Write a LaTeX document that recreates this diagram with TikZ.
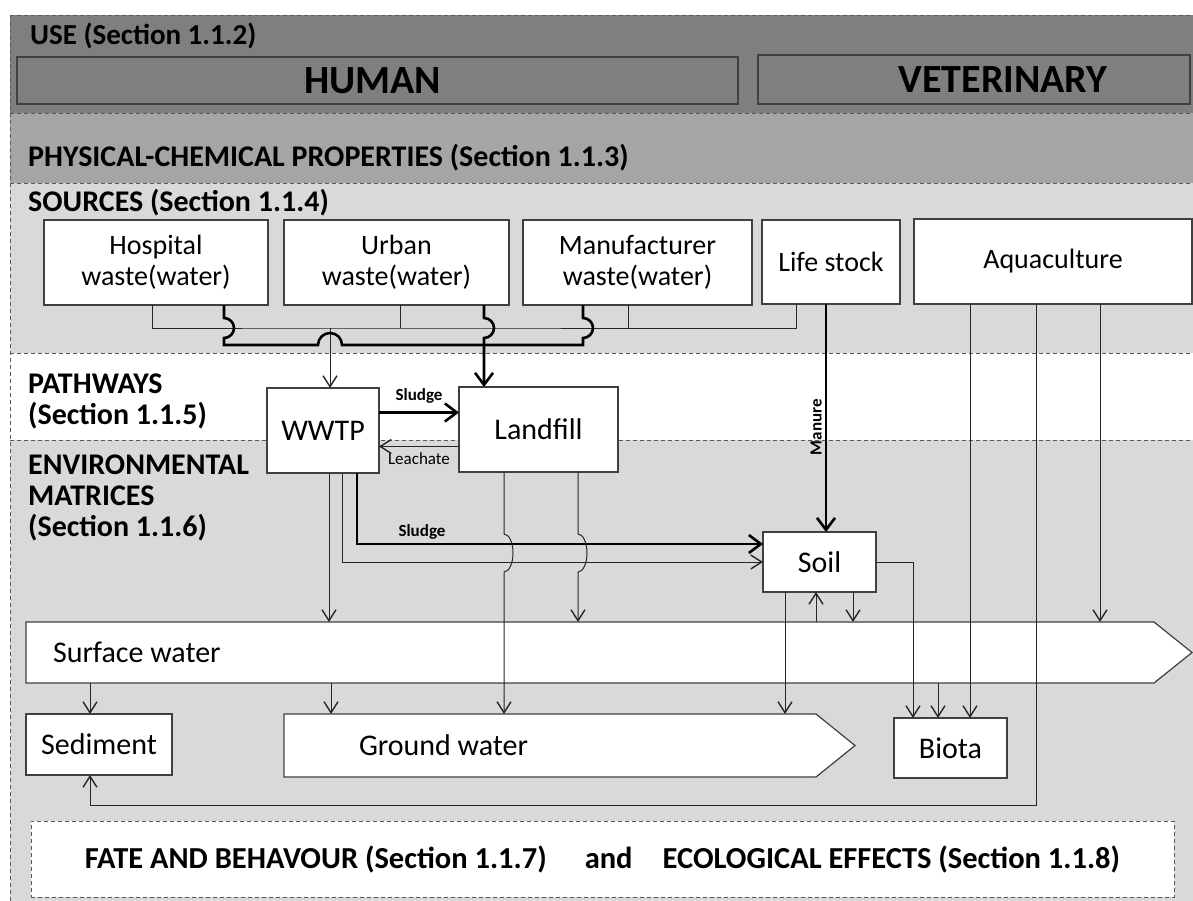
\documentclass[tikz,border=0pt]{standalone}
\usepackage{fontspec}
\setmainfont{Carlito}
\usetikzlibrary{arrows.meta,backgrounds}

\definecolor{usegray}{HTML}{7F7F7F}
\definecolor{physgray}{HTML}{A5A5A5}
\definecolor{bandgray}{HTML}{D9D9D9}
\definecolor{edgegray}{HTML}{404040}

\begin{document}
\begin{tikzpicture}[
  x=1pt, y=-1pt,
  box/.style={draw=edgegray, fill=white, line width=1.2pt, inner sep=0pt, outer sep=0pt,
    anchor=north west, align=center, font=\fontsize{28}{31}\selectfont},
  envbox/.style={box, font=\fontsize{30}{34}\selectfont},
  usebox/.style={box, fill=usegray, font=\bfseries\fontsize{40}{44}\selectfont},
  bandlbl/.style={anchor=base west, inner sep=0pt, align=left, font=\bfseries\fontsize{30}{31}\selectfont},
  sepline/.style={draw=black!65, line width=0.9pt, dash pattern=on 4pt off 3pt},
  thinline/.style={draw=black!85, line width=1pt},
  thinarrow/.style={thinline, -{Straight Barb[length=11pt, width=14pt, line width=1.4pt]}},
  thickline/.style={draw=black, line width=2.6pt},
  thickarrow/.style={thickline, -{Straight Barb[length=12pt, width=18pt]}},
  flowlbl/.style={font=\fontsize{17}{20}\selectfont, inner sep=3pt},
  boldlbl/.style={font=\bfseries\fontsize{17}{20}\selectfont, inner sep=3pt},
]
\useasboundingbox (0,0) rectangle (1193,901);

% bands
\begin{scope}[on background layer]
  \fill[white] (0,0) rectangle (1193,901);
  \fill[usegray] (10,15) rectangle (1193,113);
  \fill[physgray] (10,113) rectangle (1193,183);
  \fill[bandgray] (10,183) rectangle (1193,353);
  \fill[bandgray] (10,440) rectangle (1193,901);
  \foreach \yy in {15,113,183,353,440}
    \draw[sepline] (10,\yy) -- (1193,\yy);
  \draw[sepline] (10,15) -- (10,901);
\end{scope}

% use
\node[bandlbl, font=\bfseries\fontsize{29}{31}\selectfont] (uselbl) at (30,45) {USE (Section 1.1.2)};
\node[usebox, minimum width=721, minimum height=47] (human) at (17,57) {HUMAN\hspace*{10pt}};
\node[usebox, minimum width=432, minimum height=49] (vet) at (758,55) {\hspace*{58pt}VETERINARY};
\node[bandlbl] (physlbl) at (28,167) {PHYSICAL-CHEMICAL PROPERTIES (Section 1.1.3)};

% sources
\node[bandlbl] (srclbl) at (28,212) {SOURCES (Section 1.1.4)};
\node[box, minimum width=224, minimum height=85] (hosp) at (44,220) {Hospital\\waste(water)};
\node[box, minimum width=225, minimum height=85] (urban) at (284,220) {Urban\\waste(water)};
\node[box, minimum width=229, minimum height=85] (manuf) at (523,220) {Manufacturer\\waste(water)};
\node[box, minimum width=138, minimum height=84] (stock) at (762,220) {Life stock};
\node[box, minimum width=278, minimum height=85] (aqua) at (914,219) {Aquaculture};

% pathways
\node[bandlbl, anchor=north west] (pathlbl) at (28,374) {PATHWAYS\\(Section 1.1.5)};
\node[box, font=\fontsize{30}{34}\selectfont, minimum width=112, minimum height=85] (wwtp) at (267,388) {WWTP};
\node[box, font=\fontsize{30}{34}\selectfont, minimum width=159, minimum height=85] (landfill) at (459,387) {Landfill};

% environmental matrices
\node[bandlbl, anchor=north west] (envlbl) at (28,455) {ENVIRONMENTAL\\MATRICES\\(Section 1.1.6)};
\node[envbox, minimum width=113, minimum height=60] (soil) at (763,532) {Soil};
\node[envbox, draw=none, fill=none, minimum height=61, text width=1074, inner xsep=27, align=flush left] (sw) at (26,622) {Surface water};
\node[envbox, minimum width=146, minimum height=61] (sed) at (26,714) {Sediment};
\node[envbox, draw=none, fill=none, minimum height=63, text width=382, inner xsep=75, align=flush left] (gw) at (284,714) {Ground water};
\node[envbox, minimum width=113, minimum height=60] (biota) at (894,718) {Biota};
\begin{scope}[on background layer]
  \draw[draw=edgegray, fill=white, line width=1.2pt] (sw.north west) -- (sw.north east) -- ([xshift=38]sw.east) -- (sw.south east) -- (sw.south west) -- cycle;
  \draw[draw=edgegray, fill=white, line width=1.2pt] (gw.north west) -- (gw.north east) -- ([xshift=39]gw.east) -- (gw.south east) -- (gw.south west) -- cycle;
\end{scope}

% fate and effects
\node[box, sepline, minimum width=1143, minimum height=76, font=\bfseries\fontsize{30.5}{35}\selectfont] (fate) at (31,821)
  {FATE AND BEHAVOUR (Section 1.1.7)\hspace{38pt}and\hspace{30pt}ECOLOGICAL EFFECTS (Section 1.1.8)};

% human sources collector
\coordinate (hub) at (330,328);
\coordinate (rail) at (0,345);
\draw[thinline] ([xshift=108]hosp.south west) |- (hub) -| ([xshift=34]stock.south west);
\draw[thinline] ([xshift=116]urban.south west) -- ([xshift=116]urban.south west |- hub);
\draw[thinline] ([xshift=105]manuf.south west) -- ([xshift=105]manuf.south west |- hub);
\draw[thinarrow] (hub) -- (hub |- wwtp.north);

\draw[thickline] ([xshift=180]hosp.south west) -- ++(0,13) arc[start angle=90, end angle=-90, radius=10pt]
  -- ([xshift=180]hosp.south west |- rail) -- ([xshift=-12]hub |- rail)
  arc[start angle=180, end angle=0, radius=12pt] -- ([xshift=200]urban.south west |- rail);
\draw[thickline] ([xshift=60]manuf.south west) -- ++(0,13) arc[start angle=90, end angle=-90, radius=10pt]
  -- ([xshift=60]manuf.south west |- rail) -- ([xshift=200]urban.south west |- rail);
\draw[thickarrow] ([xshift=200]urban.south west) -- ++(0,13) arc[start angle=90, end angle=-90, radius=10pt]
  -- ([xshift=200]urban.south west |- landfill.north);

% pathways
\draw[thickarrow] ([yshift=18]wwtp.east) -- ([yshift=18]wwtp.east -| landfill.west)
  node[boldlbl, midway, above, yshift=5pt] {Sludge};
\draw[thinarrow] ([yshift=-17]landfill.west) -- ([yshift=-17]landfill.west -| wwtp.east)
  node[flowlbl, midway, below, yshift=-3pt] {Leachate};
\draw[thickarrow] ([xshift=64]stock.south west) -- ([xshift=64]stock.south west |- soil.north)
  node[boldlbl, pos=0.54, rotate=90, anchor=south] {Manure};

% to the matrices
\draw[thinarrow] ([xshift=62]wwtp.south west) -- ([xshift=62]wwtp.south west |- sw.north);
\draw[thinarrow] ([xshift=75]wwtp.south west) |- (soil.west);
\draw[thickarrow] ([xshift=90]wwtp.south west) |- ([yshift=18]soil.west) node[boldlbl, pos=0.58, above] {Sludge};
\draw[thinarrow] ([xshift=45]landfill.south west) -- ++(0,62) arc[start angle=90, end angle=-90, x radius=9pt, y radius=19pt]
  -- ([xshift=45]landfill.south west |- gw.north);
\draw[thinarrow] ([xshift=119]landfill.south west) -- ++(0,62) arc[start angle=90, end angle=-90, x radius=9pt, y radius=19pt]
  -- ([xshift=119]landfill.south west |- sw.north);

\draw[thinarrow] ([xshift=22]soil.south west) -- ([xshift=22]soil.south west |- gw.north);
\draw[thinarrow] ([xshift=53]soil.south west |- sw.north) -- ([xshift=53]soil.south west);
\draw[thinarrow] ([xshift=90]soil.south west) -- ([xshift=90]soil.south west |- sw.north);
\draw[thinarrow] (soil.east) -| ([xshift=19]biota.north west);

\draw[thinarrow] ([xshift=44]biota.north west |- sw.south) -- ([xshift=44]biota.north west);
\draw[thinarrow] ([xshift=56]aqua.south west) -- ([xshift=56]aqua.south west |- biota.north);
\draw[thinarrow] ([xshift=186]aqua.south west) -- ([xshift=186]aqua.south west |- sw.north);
\coordinate (botrail) at (0,805);
\draw[thinarrow] ([xshift=122]aqua.south west) -- ([xshift=122]aqua.south west |- botrail) -| ([xshift=64]sed.south west);

\draw[thinarrow] ([xshift=64]sed.north west |- sw.south) -- ([xshift=64]sed.north west);
\draw[thinarrow] ([xshift=47]gw.north west |- sw.south) -- ([xshift=47]gw.north west);
\end{tikzpicture}
\end{document}
